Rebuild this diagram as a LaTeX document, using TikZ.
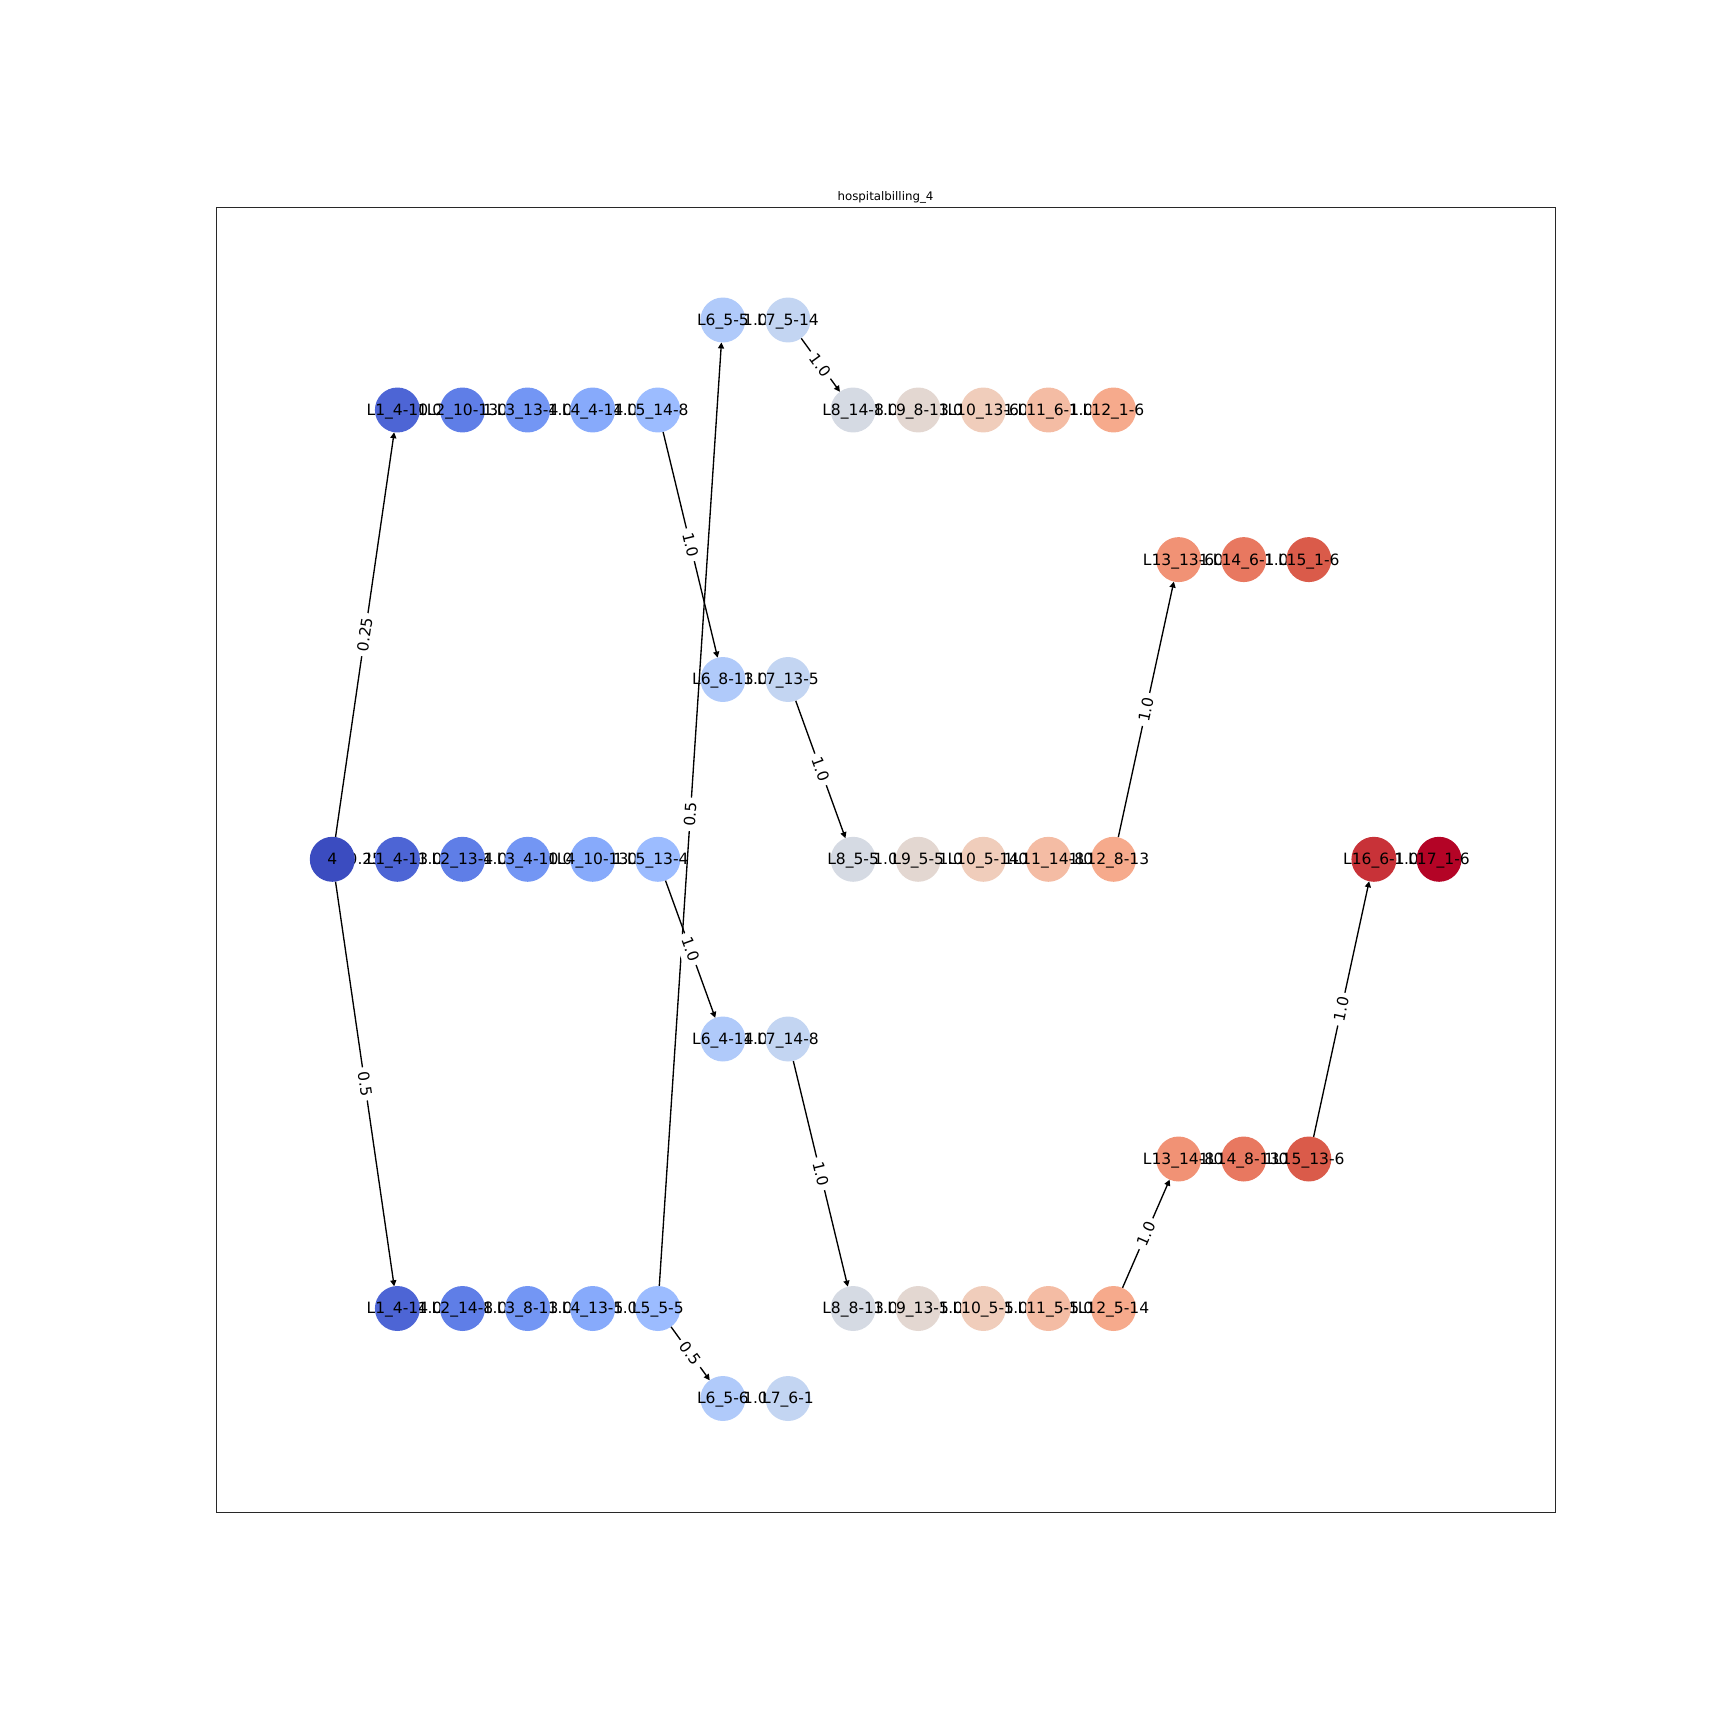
\documentclass[tikz,border=0pt]{standalone}
\usepackage{fontspec}
\setmainfont{DejaVu Sans}
\usetikzlibrary{arrows.meta}
\pgfdeclarelayer{edges}
\pgfdeclarelayer{elabels}
\pgfdeclarelayer{nlabels}
\pgfsetlayers{edges,elabels,main,nlabels}
\definecolor{k0}{RGB}{59,76,192}
\definecolor{k1}{RGB}{77,101,213}
\definecolor{k2}{RGB}{95,126,231}
\definecolor{k3}{RGB}{115,150,244}
\definecolor{k4}{RGB}{135,170,251}
\definecolor{k5}{RGB}{156,188,255}
\definecolor{k6}{RGB}{176,202,250}
\definecolor{k7}{RGB}{195,213,242}
\definecolor{k8}{RGB}{213,218,227}
\definecolor{k9}{RGB}{227,215,209}
\definecolor{k10}{RGB}{240,205,187}
\definecolor{k11}{RGB}{244,188,164}
\definecolor{k12}{RGB}{246,170,140}
\definecolor{k13}{RGB}{241,146,117}
\definecolor{k14}{RGB}{232,120,96}
\definecolor{k15}{RGB}{218,91,74}
\definecolor{k16}{RGB}{200,50,56}
\definecolor{k17}{RGB}{180,4,38}
\definecolor{framegray}{RGB}{40,40,40}
\tikzset{
  vtx/.style={circle, inner sep=0pt, outer sep=0pt, minimum size=30.1pt, draw=none},
  nlab/.style={inner sep=0pt, text height=0.729em, text depth=0pt, font=\fontsize{10.4pt}{12pt}\selectfont},
  elab/.style={midway, sloped, fill=white, rounded corners=2.5pt, inner xsep=3pt, inner ysep=4.2pt, text height=0.729em, text depth=0pt, font=\fontsize{10.3pt}{12pt}\selectfont},
  edge/.style={line width=0.9pt, black, -{Triangle[length=4pt,width=4pt]}},
  frame/.style={line width=0.65pt, framegray},
}
\newcommand\vx[5]{%
  \node[vtx, fill=#4] (#1) at (#2,#3) {};
  \begin{pgfonlayer}{nlabels}\node[nlab] at (#1) {#5};\end{pgfonlayer}}
\newcommand\ed[3]{%
  \begin{pgfonlayer}{edges}\draw[edge] (#1) -- (#2);\end{pgfonlayer}
  \begin{pgfonlayer}{elabels}\path (#1) -- (#2) node[elab] {#3};\end{pgfonlayer}}
\begin{document}
\begin{tikzpicture}[x=0.66917pt, y=-0.66917pt]
\useasboundingbox (0,0) rectangle (1728,1728);
\draw[frame] (216.3,207.4) rectangle (1555.2,1512.3);
\node[anchor=base, inner sep=0pt, font=\fontsize{7.9pt}{9pt}\selectfont] (title) at (885.5,200.6) {hospitalbilling\_4};
% column 0
\vx{n4}{332.3}{859.3}{k0}{4}
% columns 1-5
\vx{B1}{397.4}{410}{k1}{L1\_4-10}
\vx{E1}{397.4}{859.3}{k1}{L1\_4-13}
\vx{H1}{397.4}{1308.5}{k1}{L1\_4-14}
\vx{B2}{462.5}{410}{k2}{L2\_10-13}
\vx{E2}{462.5}{859.3}{k2}{L2\_13-4}
\vx{H2}{462.5}{1308.5}{k2}{L2\_14-8}
\vx{B3}{527.6}{410}{k3}{L3\_13-4}
\vx{E3}{527.6}{859.3}{k3}{L3\_4-10}
\vx{H3}{527.6}{1308.5}{k3}{L3\_8-13}
\vx{B4}{592.7}{410}{k4}{L4\_4-14}
\vx{E4}{592.7}{859.3}{k4}{L4\_10-13}
\vx{H4}{592.7}{1308.5}{k4}{L4\_13-5}
\vx{B5}{657.8}{410}{k5}{L5\_14-8}
\vx{E5}{657.8}{859.3}{k5}{L5\_13-4}
\vx{H5}{657.8}{1308.5}{k5}{L5\_5-5}
% columns 6-7
\vx{A6}{722.9}{320}{k6}{L6\_5-5}
\vx{D6}{722.9}{679.5}{k6}{L6\_8-13}
\vx{F6}{722.9}{1039}{k6}{L6\_4-14}
\vx{I6}{722.9}{1398.5}{k6}{L6\_5-6}
\vx{A7}{788}{320}{k7}{L7\_5-14}
\vx{D7}{788}{679.5}{k7}{L7\_13-5}
\vx{F7}{788}{1039}{k7}{L7\_14-8}
\vx{I7}{788}{1398.5}{k7}{L7\_6-1}
% columns 8-12
\vx{B8}{853.1}{410}{k8}{L8\_14-8}
\vx{E8}{853.1}{859.3}{k8}{L8\_5-5}
\vx{H8}{853.1}{1308.5}{k8}{L8\_8-13}
\vx{B9}{918.2}{410}{k9}{L9\_8-13}
\vx{E9}{918.2}{859.3}{k9}{L9\_5-5}
\vx{H9}{918.2}{1308.5}{k9}{L9\_13-5}
\vx{B10}{983.3}{410}{k10}{L10\_13-6}
\vx{E10}{983.3}{859.3}{k10}{L10\_5-14}
\vx{H10}{983.3}{1308.5}{k10}{L10\_5-5}
\vx{B11}{1048.4}{410}{k11}{L11\_6-1}
\vx{E11}{1048.4}{859.3}{k11}{L11\_14-8}
\vx{H11}{1048.4}{1308.5}{k11}{L11\_5-5}
\vx{B12}{1113.5}{410}{k12}{L12\_1-6}
\vx{E12}{1113.5}{859.3}{k12}{L12\_8-13}
\vx{H12}{1113.5}{1308.5}{k12}{L12\_5-14}
% columns 13-15
\vx{C13}{1178.6}{559.6}{k13}{L13\_13-6}
\vx{G13}{1178.6}{1159}{k13}{L13\_14-8}
\vx{C14}{1243.7}{559.6}{k14}{L14\_6-1}
\vx{G14}{1243.7}{1159}{k14}{L14\_8-13}
\vx{C15}{1308.8}{559.6}{k15}{L15\_1-6}
\vx{G15}{1308.8}{1159}{k15}{L15\_13-6}
% columns 16-17
\vx{E16}{1373.9}{859.3}{k16}{L16\_6-1}
\vx{E17}{1439}{859.3}{k17}{L17\_1-6}
% edges
\ed{n4}{B1}{0.25}
\ed{n4}{E1}{0.25}
\ed{n4}{H1}{0.5}
\ed{B1}{B2}{1.0}
\ed{B2}{B3}{1.0}
\ed{B3}{B4}{1.0}
\ed{B4}{B5}{1.0}
\ed{E1}{E2}{1.0}
\ed{E2}{E3}{1.0}
\ed{E3}{E4}{1.0}
\ed{E4}{E5}{1.0}
\ed{H1}{H2}{1.0}
\ed{H2}{H3}{1.0}
\ed{H3}{H4}{1.0}
\ed{H4}{H5}{1.0}
\ed{B5}{D6}{1.0}
\ed{E5}{F6}{1.0}
\ed{H5}{A6}{0.5}
\ed{H5}{I6}{0.5}
\ed{A6}{A7}{1.0}
\ed{D6}{D7}{1.0}
\ed{F6}{F7}{1.0}
\ed{I6}{I7}{1.0}
\ed{A7}{B8}{1.0}
\ed{D7}{E8}{1.0}
\ed{F7}{H8}{1.0}
\ed{B8}{B9}{1.0}
\ed{B9}{B10}{1.0}
\ed{B10}{B11}{1.0}
\ed{B11}{B12}{1.0}
\ed{E8}{E9}{1.0}
\ed{E9}{E10}{1.0}
\ed{E10}{E11}{1.0}
\ed{E11}{E12}{1.0}
\ed{H8}{H9}{1.0}
\ed{H9}{H10}{1.0}
\ed{H10}{H11}{1.0}
\ed{H11}{H12}{1.0}
\ed{E12}{C13}{1.0}
\ed{H12}{G13}{1.0}
\ed{C13}{C14}{1.0}
\ed{C14}{C15}{1.0}
\ed{G13}{G14}{1.0}
\ed{G14}{G15}{1.0}
\ed{G15}{E16}{1.0}
\ed{E16}{E17}{1.0}
\end{tikzpicture}
\end{document}
